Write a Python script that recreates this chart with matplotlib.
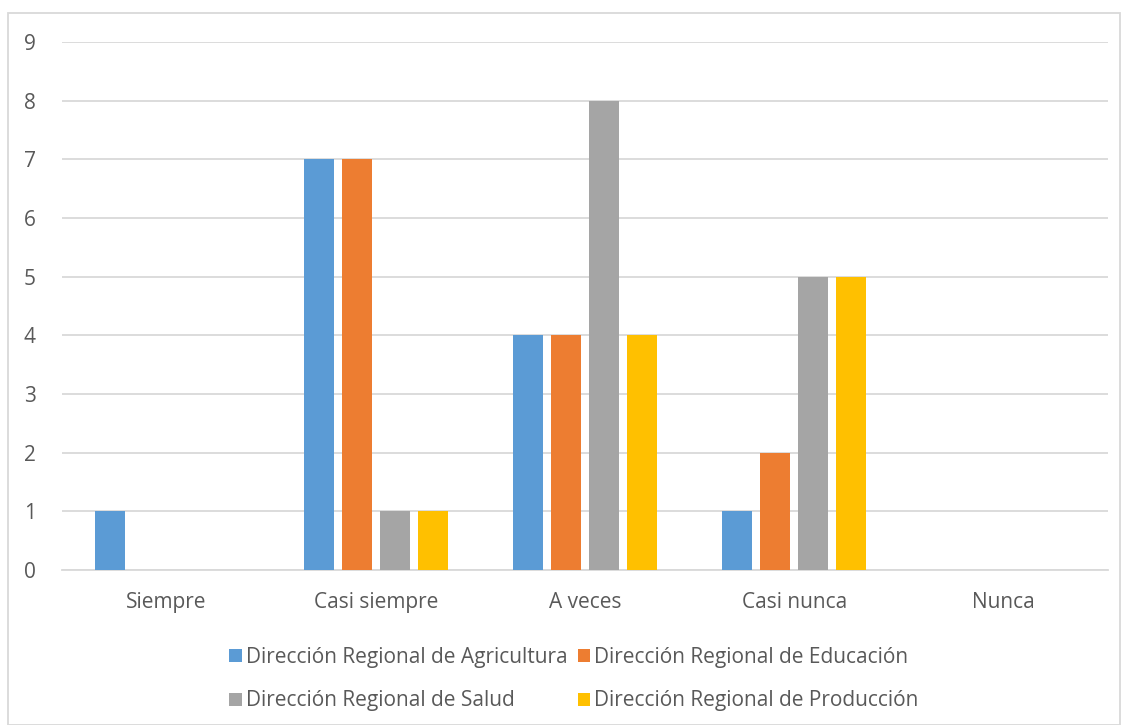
import numpy as np
import matplotlib.pyplot as plt
from matplotlib.patches import Patch, Rectangle

categories = ['Siempre', 'Casi siempre', 'A veces', 'Casi nunca', 'Nunca']
series_names = ['Dirección Regional de Agricultura', 'Dirección Regional de Educación',
                'Dirección Regional de Salud', 'Dirección Regional de Producción']
agricultura = [1, 7, 4, 1, 0]
educacion = [0, 7, 4, 2, 0]
salud = [0, 1, 8, 5, 0]
produccion = [0, 1, 4, 5, 0]
colors = ['#5B9BD5', '#ED7D31', '#A5A5A5', '#FFC000']

plt.rcParams['font.family'] = ['Open Sans', 'DejaVu Sans']
text_color = '#595959'

fig = plt.figure(figsize=(11.24, 7.25), dpi=100)
W, H = 1124, 725
ax = fig.add_axes([62 / W, 1 - 570 / H, (1108 - 62) / W, (570 - 42) / H])

x = np.arange(len(categories))
width = 30 / 209
step = 38 / 209
for i, (vals, c) in enumerate(zip([agricultura, educacion, salud, produccion], colors)):
    ax.bar(x + (i - 1.5) * step, vals, width, color=c, zorder=3, label=series_names[i])

ax.set_xlim(-0.5, len(categories) - 0.5)
ax.set_ylim(0, 9)
ax.set_yticks(range(10))
ax.set_xticks(x)
ax.set_xticklabels(categories)
ax.yaxis.grid(True, color='#D9D9D9', linewidth=1.3, zorder=0)
for s in ['top', 'right', 'left']:
    ax.spines[s].set_visible(False)
ax.spines['bottom'].set_color('#D9D9D9')
ax.spines['bottom'].set_linewidth(1.3)
ax.tick_params(axis='both', length=0, labelsize=15, labelcolor=text_color)
ax.tick_params(axis='y', pad=19)
ax.tick_params(axis='x', pad=16)

# legend fills column-wise, so reorder to get row-wise layout
order = [0, 2, 1, 3]
handles = [Patch(facecolor=colors[i]) for i in order]
labels = [series_names[i] for i in order]
fig.legend(handles, labels, ncol=2, loc='center', bbox_to_anchor=(574 / W, 1 - 679 / H),
           frameon=False, fontsize=15, labelcolor=text_color, handlelength=0.6, handleheight=0.6,
           handletextpad=0.2, columnspacing=0.5, labelspacing=1.1)

fig.patches.append(Rectangle((8 / W, 0), 1112 / W, 1 - 13 / H, transform=fig.transFigure,
                             fill=False, edgecolor='#D9D9D9', linewidth=1.3))

fig.savefig('out.png', dpi=100)
